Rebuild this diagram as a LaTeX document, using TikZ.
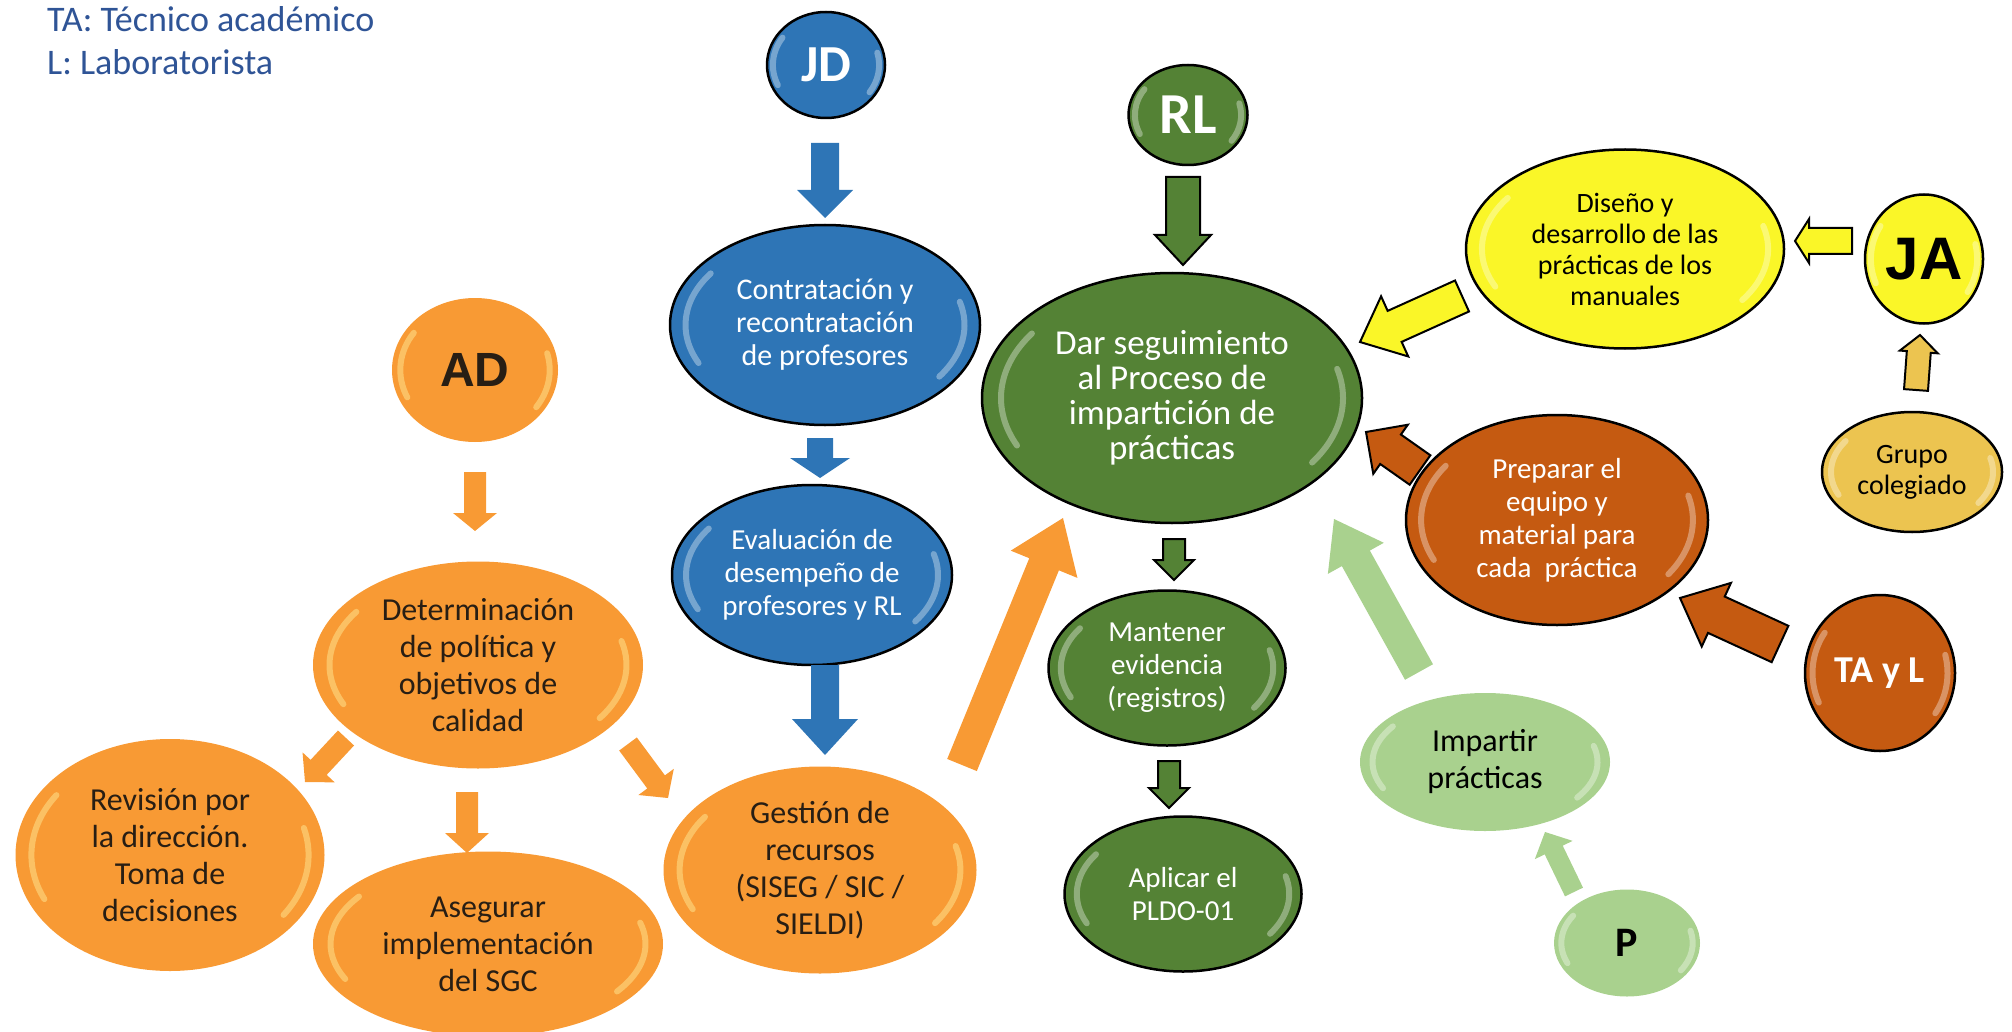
\documentclass[tikz,border=0pt]{standalone}
\usepackage{fontspec}
\setmainfont{Carlito}
\newfontfamily\arialf{Liberation Sans}
\usetikzlibrary{calc,shapes.geometric}
\definecolor{cOr}{RGB}{248,154,52}
\definecolor{cBl}{RGB}{46,117,182}
\definecolor{cGd}{RGB}{84,130,53}
\definecolor{cYe}{RGB}{250,246,40}
\definecolor{cGo}{RGB}{236,196,80}
\definecolor{cBr}{RGB}{197,90,17}
\definecolor{cLg}{RGB}{169,209,142}
\definecolor{cLeg}{RGB}{47,84,150}
\definecolor{cTx}{RGB}{40,30,20}
\definecolor{cGlO}{RGB}{255,226,140}
\newcommand\barrow[6]{%
  \coordinate (abase) at ($(#3)!#6!(#2)$);
  \path[#1] ($(#2)!#4!90:(#3)$) -- ($(abase)!#4!90:(#3)$) -- ($(abase)!#5!90:(#3)$) -- (#3) -- ($(abase)!#5!-90:(#3)$) -- ($(abase)!#4!-90:(#3)$) -- ($(#2)!#4!-90:(#3)$) -- cycle;}
\newcommand\gloss[4]{% style, node, rx, ry
  \draw[#1] ([shift={(145:{0.9*#3} and {0.9*#4})}]#2.center) arc[start angle=145, end angle=205, x radius={0.9*#3}, y radius={0.9*#4}];
  \draw[#1] ([shift={(-35:{0.9*#3} and {0.9*#4})}]#2.center) arc[start angle=-35, end angle=15, x radius={0.9*#3}, y radius={0.9*#4}];}
\tikzset{
  bub/.style={ellipse, inner sep=0pt, align=center},
  orng/.style={bub, fill=cOr, text=cTx},
  blu/.style={bub, fill=cBl, draw=black, line width=2.5pt, text=white},
  grn/.style={bub, fill=cGd, draw=black, line width=2.5pt, text=white},
  yel/.style={bub, fill=cYe, draw=black, line width=2.5pt, text=black},
  gol/.style={bub, fill=cGo, draw=black, line width=2.5pt, text=black},
  brn/.style={bub, fill=cBr, draw=black, line width=2.5pt, text=white},
  lgr/.style={bub, fill=cLg, text=black},
  f28/.style={font=\fontsize{28}{31}\selectfont},
  f29/.style={font=\fontsize{29}{33}\selectfont},
  f30/.style={font=\fontsize{30}{33}\selectfont},
  f32/.style={font=\fontsize{32}{37}\selectfont},
  f35/.style={font=\fontsize{35}{35}\selectfont},
  aor/.style={fill=cOr},
  abl/.style={fill=cBl},
  agr/.style={fill=cGd, draw=black, line width=2pt},
  aye/.style={fill=cYe, draw=black, line width=2pt},
  ago/.style={fill=cGo, draw=black, line width=2pt},
  abr/.style={fill=cBr, draw=black, line width=2pt},
  alg/.style={fill=cLg},
  glw/.style={white, opacity=0.35, line width=6pt, line cap=round},
  glo/.style={cGlO, opacity=0.55, line width=6pt, line cap=round},
}
\begin{document}
\begin{tikzpicture}[x=1pt,y=1pt]
\useasboundingbox (0,0) rectangle (2012,-1032);
% legend
\node[anchor=base west, inner sep=0pt, text=cLeg, font=\fontsize{36}{36}\selectfont] (leg1) at (47,-32) {TA: Técnico académico};
\node[anchor=base west, inner sep=0pt, text=cLeg, font=\fontsize{36}{36}\selectfont] (leg2) at (47,-75) {L: Laboratorista};
% orange cluster
\node[orng, minimum width=166pt, minimum height=144pt] (AD) at (475,-370) {\arialf\bfseries\fontsize{48}{48}\selectfont AD};
\node[orng, f32, minimum width=330pt, minimum height=207pt] (det) at (478,-665) {Determinación\\de política y\\objetivos de\\calidad};
\node[orng, f32, minimum width=309pt, minimum height=232pt] (rev) at (170,-855) {Revisión por\\la dirección.\\Toma de\\decisiones};
\node[orng, f32, minimum width=350pt, minimum height=185pt] (ase) at (488,-944) {Asegurar\\implementación\\del SGC};
\node[orng, f32, minimum width=313pt, minimum height=207pt] (ges) at (820,-870) {Gestión de\\recursos\\(SISEG / SIC /\\SIELDI)};
% blue column
\node[blu, minimum width=118pt, minimum height=106pt] (JD) at (826,-65) {\bfseries\fontsize{52}{52}\selectfont JD};
\node[blu, f30, minimum width=310pt, minimum height=200pt] (con) at (825,-325) {Contratación y\\recontratación\\de profesores};
\node[blu, f29, minimum width=280pt, minimum height=180pt] (eva) at (812,-575) {Evaluación de\\desempeño de\\profesores y RL};
% green column
\node[grn, minimum width=119pt, minimum height=100pt] (RL) at (1188,-115) {\bfseries\fontsize{58}{58}\selectfont RL};
\node[grn, f35, minimum width=380pt, minimum height=250pt] (dar) at (1172,-398) {Dar seguimiento\\al Proceso de\\impartición de\\prácticas};
\node[grn, f29, minimum width=237pt, minimum height=155pt] (man) at (1167,-668) {Mantener\\evidencia\\(registros)};
\node[grn, f29, minimum width=237pt, minimum height=155pt] (apl) at (1183,-894) {Aplicar el\\PLDO-01};
% right side
\node[yel, f28, minimum width=318pt, minimum height=199pt] (dis) at (1625,-249) {Diseño y\\desarrollo de las\\prácticas de los\\manuales};
\node[yel, minimum width=118pt, minimum height=129pt] (JA) at (1924,-259) {\arialf\bfseries\fontsize{60}{60}\selectfont JA};
\node[gol, f28, minimum width=180pt, minimum height=120pt] (gru) at (1912,-472) {Grupo\\colegiado};
\node[brn, f29, minimum width=302pt, minimum height=210pt] (pre) at (1557,-520) {Preparar el\\equipo y\\material para\\cada~ práctica};
\node[brn, minimum width=150pt, minimum height=156pt] (tal) at (1880,-673) {\bfseries\fontsize{38}{38}\selectfont TA y L};
\node[lgr, f32, minimum width=250pt, minimum height=138pt] (imp) at (1485,-762) {Impartir\\prácticas};
\node[lgr, minimum width=146pt, minimum height=107pt] (P) at (1627,-943) {\bfseries\fontsize{42}{42}\selectfont P};
% glossy highlights
\gloss{glo}{AD}{83}{72}
\gloss{glo}{det}{165}{103}
\gloss{glo}{rev}{154}{116}
\gloss{glo}{ase}{175}{92}
\gloss{glo}{ges}{156}{103}
\gloss{glw}{JD}{59}{53}
\gloss{glw}{con}{155}{100}
\gloss{glw}{eva}{140}{90}
\gloss{glw}{RL}{59}{50}
\gloss{glw}{dar}{190}{125}
\gloss{glw}{man}{118}{77}
\gloss{glw}{apl}{118}{77}
\gloss{glw}{dis}{159}{99}
\gloss{glw}{JA}{59}{64}
\gloss{glw}{gru}{90}{60}
\gloss{glw}{pre}{151}{105}
\gloss{glw}{tal}{75}{78}
\gloss{glw}{imp}{125}{69}
\gloss{glw}{P}{73}{53}
% arrow end points
\coordinate (a1s) at (475,-472); \coordinate (a1e) at (475,-531);
\coordinate (a2s) at (346,-738); \coordinate (a2e) at (305,-782);
\coordinate (a3s) at (467,-792); \coordinate (a3e) at (467,-853);
\coordinate (a4s) at (628,-744); \coordinate (a4e) at (668,-798);
\coordinate (b1s) at (825,-143); \coordinate (b1e) at (825,-218);
\coordinate (b2s) at (820,-438); \coordinate (b2e) at (820,-478);
\coordinate (b3s) at (825,-665); \coordinate (b3e) at (825,-755);
\coordinate (o5s) at (962,-765); \coordinate (o5e) at (1063,-518);
\coordinate (g1s) at (1183,-177); \coordinate (g1e) at (1183,-265);
\coordinate (g2s) at (1174,-539); \coordinate (g2e) at (1174,-580);
\coordinate (g3s) at (1169,-761); \coordinate (g3e) at (1169,-808);
\coordinate (y1s) at (1462,-296); \coordinate (y1e) at (1360,-342);
\coordinate (y2s) at (1852,-241); \coordinate (y2e) at (1795,-241);
\coordinate (q1s) at (1916,-390); \coordinate (q1e) at (1920,-335);
\coordinate (r1s) at (1420,-470); \coordinate (r1e) at (1366,-432);
\coordinate (r2s) at (1780,-644); \coordinate (r2e) at (1680,-598);
\coordinate (l1s) at (1419,-672); \coordinate (l1e) at (1334,-519);
\coordinate (l2s) at (1574,-892); \coordinate (l2e) at (1545,-832);
% arrows
\barrow{aor}{a1s}{a1e}{11pt}{22pt}{18pt}
\barrow{aor}{a2s}{a2e}{11pt}{22pt}{20pt}
\barrow{aor}{a3s}{a3e}{11pt}{22pt}{20pt}
\barrow{aor}{a4s}{a4e}{11pt}{22pt}{20pt}
\barrow{abl}{b1s}{b1e}{14pt}{28pt}{28pt}
\barrow{abl}{b2s}{b2e}{13pt}{30pt}{20pt}
\barrow{abl}{b3s}{b3e}{14pt}{33pt}{36pt}
\barrow{aor}{o5s}{o5e}{16pt}{36pt}{50pt}
\barrow{agr}{g1s}{g1e}{17pt}{28pt}{30pt}
\barrow{agr}{g2s}{g2e}{11pt}{20pt}{20pt}
\barrow{agr}{g3s}{g3e}{11pt}{20pt}{20pt}
\barrow{aye}{y1s}{y1e}{17pt}{33pt}{38pt}
\barrow{aye}{y2s}{y2e}{13pt}{22pt}{14pt}
\barrow{ago}{q1s}{q1e}{12pt}{19pt}{17pt}
\barrow{abr}{r1s}{r1e}{18pt}{30pt}{30pt}
\barrow{abr}{r2s}{r2e}{20pt}{35pt}{40pt}
\barrow{alg}{l1s}{l1e}{16pt}{32pt}{45pt}
\barrow{alg}{l2s}{l2e}{10pt}{21pt}{20pt}
\end{tikzpicture}
\end{document}
